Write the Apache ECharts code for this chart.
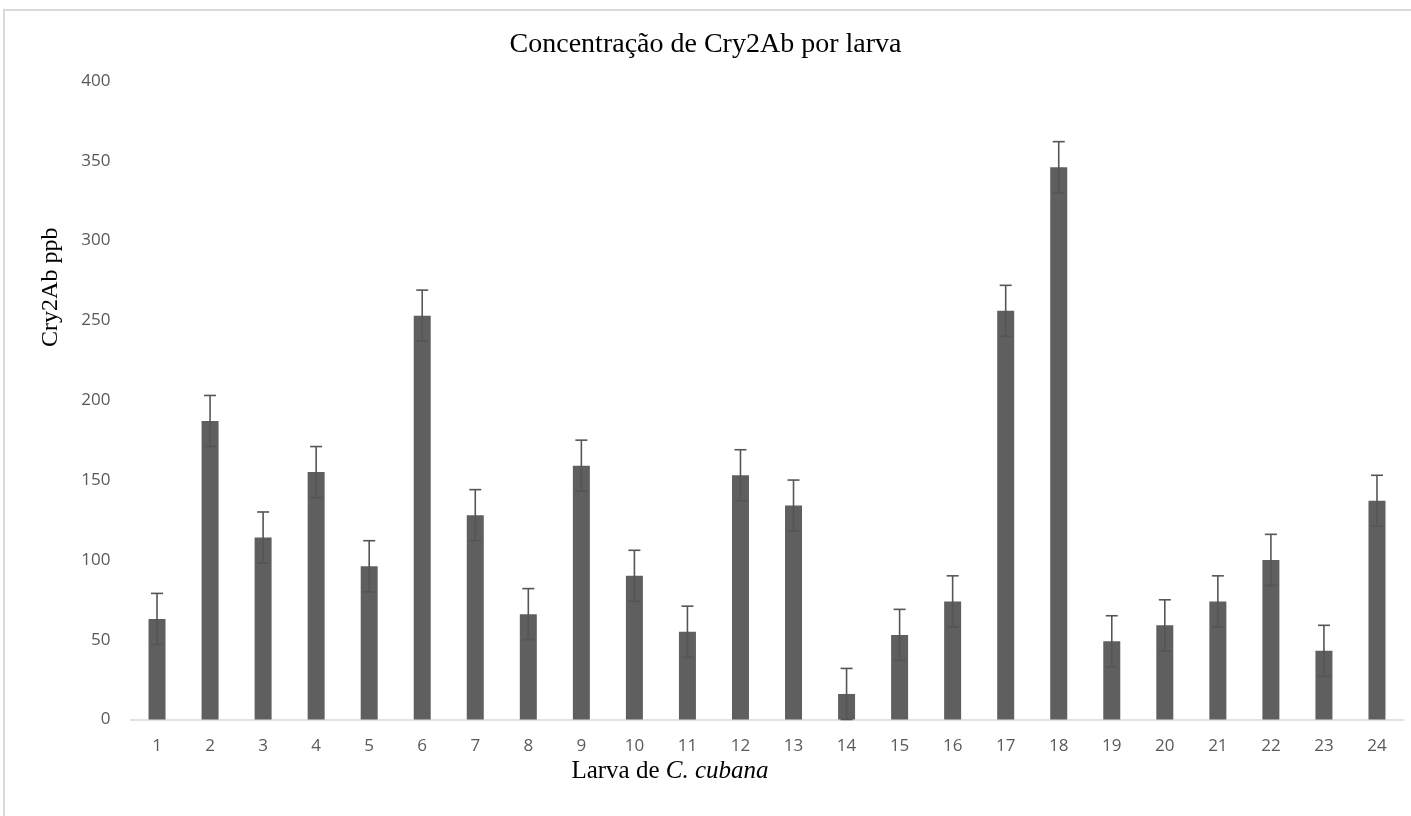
<!DOCTYPE html>
<html>
<head>
<meta charset="utf-8">
<script src="https://cdn.jsdelivr.net/npm/echarts@6/dist/echarts.min.js"></script>
<style>
  html, body { margin: 0; padding: 0; background: #fff; }
  #frame {
    position: absolute; left: 3px; top: 9px; width: 1500px; height: 900px;
    border-left: 2px solid #d9d9d9; border-top: 2px solid #d9d9d9;
    pointer-events: none;
  }
  #chart { position: absolute; left: 0; top: 0; width: 1411px; height: 816px; }
</style>
</head>
<body>
<div id="chart"></div>
<div id="frame"></div>
<script>
// larva numbers
const larvae = ['1', '2', '3', '4', '5', '6', '7', '8', '9', '10', '11', '12',
  '13', '14', '15', '16', '17', '18', '19', '20', '21', '22', '23', '24'];
// Cry2Ab concentration (ppb)
const cry2ab = [63, 187, 114, 155, 96, 253, 128, 66, 159, 90, 55, 153,
  134, 16, 53, 74, 256, 346, 49, 59, 74, 100, 43, 137];
// error bar half-widths
const errs = [16, 16, 16, 16, 16, 16, 16, 16, 16, 16, 16, 16,
  16, 16, 16, 16, 16, 16, 16, 16, 16, 16, 16, 16];

const barColor = '#5f5f5f';

let chart = echarts.init(document.getElementById('chart'));

// error bars: [index, low, high]
let errData = cry2ab.map(function (v, i) {
  return [i, v - errs[i], v + errs[i]];
});

let option = {
  animation: false,
  backgroundColor: '#fff',
  title: {
    text: 'Concentração de Cry2Ab por larva',
    left: 'center',
    top: 26,
    textStyle: {
      fontFamily: 'Liberation Serif',
      fontWeight: 'normal',
      fontSize: 28,
      color: '#000'
    }
  },
  grid: { left: 130.5, right: 7.5, top: 81, bottom: 96.5 },
  xAxis: {
    type: 'category',
    data: larvae,
    name: '{n|Larva de }{i|C. cubana}',
    nameLocation: 'middle',
    nameGap: 38,
    nameTextStyle: {
      padding: [0, 194, 0, 0],
      rich: {
        n: { fontFamily: 'Liberation Serif', fontSize: 25, color: '#000' },
        i: { fontFamily: 'Liberation Serif', fontSize: 25, fontStyle: 'italic', color: '#000' }
      }
    },
    axisLine: { lineStyle: { color: '#d9d9d9', width: 1.5 } },
    axisTick: { show: false },
    axisLabel: {
      margin: 18,
      fontFamily: 'Open Sans',
      fontSize: 17,
      color: '#595959'
    }
  },
  yAxis: {
    type: 'value',
    min: 0,
    max: 400,
    interval: 50,
    name: 'Cry2Ab ppb',
    nameLocation: 'middle',
    nameGap: 68,
    nameTextStyle: {
      fontFamily: 'Liberation Serif',
      fontSize: 24,
      color: '#000',
      padding: [0, 0, 0, 226]
    },
    axisLine: { show: false },
    axisTick: { show: false },
    splitLine: { show: false },
    axisLabel: {
      margin: 20,
      fontFamily: 'Open Sans',
      fontSize: 17,
      color: '#595959'
    }
  },
  series: [
    {
      name: 'Cry2Ab',
      type: 'bar',
      data: cry2ab,
      barWidth: 17,
      itemStyle: { color: barColor }
    },
    {
      name: 'erro',
      type: 'custom',
      data: errData,
      z: 10,
      renderItem: function (params, api) {
        let idx = api.value(0);
        let lo = api.coord([idx, api.value(1)]);
        let hi = api.coord([idx, api.value(2)]);
        let half = 6;
        let style = { stroke: '#555', lineWidth: 1.6 };
        return {
          type: 'group',
          children: [
            { type: 'line', shape: { x1: hi[0], y1: hi[1], x2: lo[0], y2: lo[1] }, style: style },
            { type: 'line', shape: { x1: hi[0] - half, y1: hi[1], x2: hi[0] + half, y2: hi[1] }, style: style },
            { type: 'line', shape: { x1: lo[0] - half, y1: lo[1], x2: lo[0] + half, y2: lo[1] }, style: style }
          ]
        };
      }
    }
  ]
};

chart.setOption(option);
</script>
</body>
</html>
